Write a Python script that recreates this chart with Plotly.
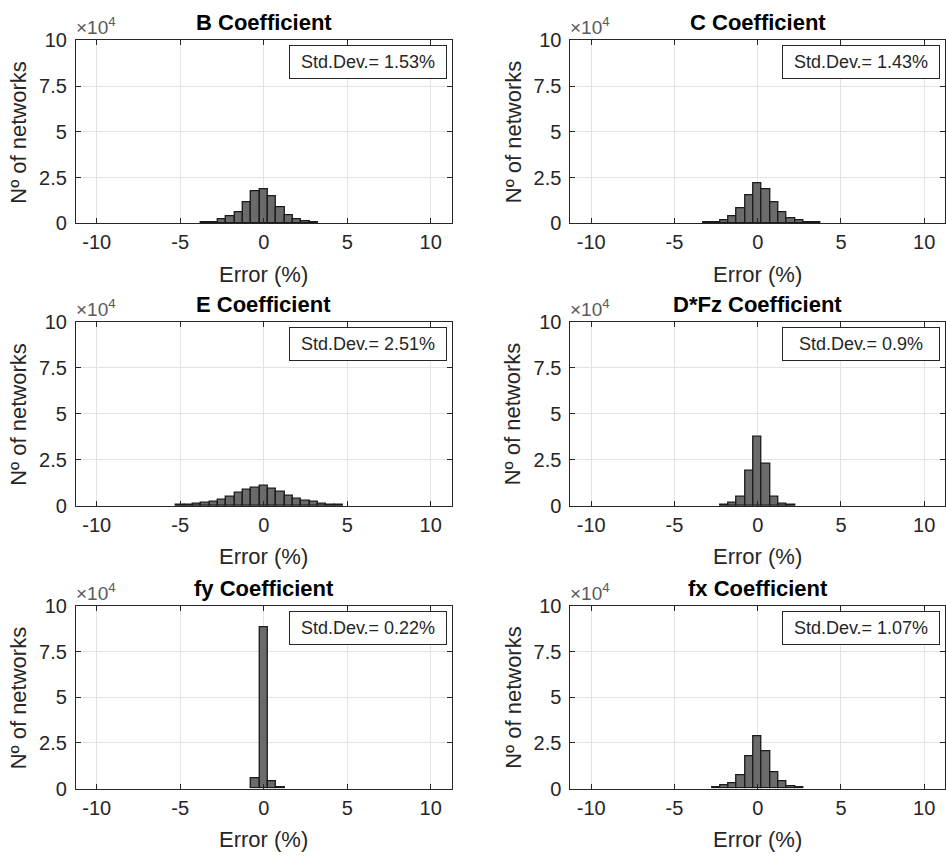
import plotly.graph_objects as go

# ---------------- data (counts per 0.5 % bin) ----------------
titles = ["B Coefficient", "C Coefficient", "E Coefficient",
          "D*Fz Coefficient", "fy Coefficient", "fx Coefficient"]
std_labels = ["Std.Dev.= 1.53%", "Std.Dev.= 1.43%", "Std.Dev.= 2.51%",
              "Std.Dev.= 0.9%", "Std.Dev.= 0.22%", "Std.Dev.= 1.07%"]

b_centers = [-3.5, -3.0, -2.5, -2.0, -1.5, -1.0, -0.5, 0.0, 0.5, 1.0, 1.5, 2.0, 2.5, 3.0]
b_counts = [800, 800, 2300, 3800, 6000, 11300, 17500, 18800, 15100, 9000, 4500, 2200, 1400, 800]

c_centers = [-3.0, -2.5, -2.0, -1.5, -1.0, -0.5, 0.0, 0.5, 1.0, 1.5, 2.0, 2.5, 3.0, 3.5]
c_counts = [600, 700, 1500, 3700, 8300, 15200, 22200, 18900, 11500, 6100, 3100, 1500, 900, 600]

e_centers = [-5.0, -4.5, -4.0, -3.5, -3.0, -2.5, -2.0, -1.5, -1.0, -0.5, 0.0,
             0.5, 1.0, 1.5, 2.0, 2.5, 3.0, 3.5, 4.0, 4.5]
e_counts = [400, 600, 1100, 1600, 2400, 3600, 5200, 7200, 8800, 10000, 10900,
            9500, 7600, 5600, 3900, 2900, 2100, 1400, 800, 500]

d_centers = [-2.0, -1.5, -1.0, -0.5, 0.0, 0.5, 1.0, 1.5, 2.0]
d_counts = [500, 1600, 5100, 19200, 37700, 22800, 5100, 1300, 500]

fy_centers = [-0.5, 0.0, 0.5, 1.0]
fy_counts = [5700, 88300, 3800, 400]

fx_centers = [-2.5, -2.0, -1.5, -1.0, -0.5, 0.0, 0.5, 1.0, 1.5, 2.0, 2.5]
fx_counts = [500, 1600, 3000, 7300, 17500, 28600, 20500, 8900, 3900, 1400, 500]

bin_width = 0.5
x_tickvals = [-10, -5, 0, 5, 10]
x_ticktext = ["-10", "-5", "0", "5", "10"]
y_tickvals = [0, 25000, 50000, 75000, 100000]
y_ticktext = ["0", "2.5", "5", "7.5", "10"]
x_range = [-11.25, 11.25]
y_range = [0, 100000]

series = [(b_centers, b_counts), (c_centers, c_counts), (e_centers, e_counts),
          (d_centers, d_counts), (fy_centers, fy_counts), (fx_centers, fx_counts)]

# ---------------- layout geometry (pixels) ----------------
W, H = 946, 858
col_px = [(76, 452), (571, 946)]
row_px = [(30, 218), (319, 508), (611, 798)]

FONT = "Liberation Sans, Arial, Helvetica, sans-serif"
TXT = "#262626"

fig = go.Figure()
layout = dict(width=W, height=H, margin=dict(l=0, r=0, t=0, b=0),
              paper_bgcolor="white", plot_bgcolor="white",
              showlegend=False, bargap=0, font=dict(family=FONT, color=TXT, size=20))
annotations = []

for i, (cx, cy) in enumerate(series):
    r, c = divmod(i, 2)
    n = i + 1
    xa = "x" if n == 1 else f"x{n}"
    ya = "y" if n == 1 else f"y{n}"
    fig.add_trace(go.Bar(x=cx, y=cy, width=bin_width, xaxis=xa, yaxis=ya,
                         marker=dict(color="#6b6b6b",
                                     line=dict(color="#1a1a1a", width=1.3))))
    x0, x1 = col_px[c]
    y0, y1 = row_px[r]
    common = dict(showline=True, linecolor=TXT, linewidth=1, mirror="ticks",
                  ticks="inside", ticklen=5, tickcolor=TXT, tickwidth=1,
                  showgrid=True, gridcolor="#e3e3e3", gridwidth=1,
                  zeroline=False, tickfont=dict(family=FONT, size=20, color=TXT))
    layout["xaxis" if n == 1 else f"xaxis{n}"] = dict(
        domain=[x0 / W, x1 / W], anchor=ya, range=x_range,
        tickvals=x_tickvals, ticktext=x_ticktext, ticklabelstandoff=1, **common)
    layout["yaxis" if n == 1 else f"yaxis{n}"] = dict(
        domain=[1 - y1 / H, 1 - y0 / H], anchor=xa, range=y_range,
        tickvals=y_tickvals, ticktext=y_ticktext, ticklabelstandoff=4, **common)

    xd = f"{xa} domain"
    yd = f"{ya} domain"
    # title
    annotations.append(dict(text=f"<b>{titles[i]}</b>", xref=xd, yref=yd, x=0.5, y=1,
                            xanchor="center", yanchor="bottom", yshift=3, showarrow=False,
                            font=dict(family=FONT, size=22, color="black")))
    # exponent
    annotations.append(dict(text="×10<sup>4</sup>", xref=xd, yref=yd, x=0, y=1,
                            xanchor="left", yanchor="bottom", xshift=-2, yshift=0,
                            showarrow=False, font=dict(family=FONT, size=19, color="#5a5a5a")))
    # axis titles
    annotations.append(dict(text="Error (%)", xref=xd, yref=yd, x=0.5, y=0,
                            xanchor="center", yanchor="middle", yshift=-51, showarrow=False,
                            font=dict(family=FONT, size=22, color=TXT)))
    annotations.append(dict(text="Nº of networks", xref=xd, yref=yd, x=0, y=0.5,
                            xanchor="center", yanchor="middle", xshift=-57, textangle=-90,
                            showarrow=False, font=dict(family=FONT, size=22, color=TXT)))
    # std-dev box
    annotations.append(dict(text=std_labels[i], xref=xd, yref=yd, x=0.987, y=0.972,
                            xanchor="right", yanchor="top", showarrow=False,
                            bordercolor=TXT, borderwidth=1, borderpad=5, bgcolor="white",
                            width=146, height=22, align="center",
                            font=dict(family=FONT, size=18, color=TXT)))

layout["annotations"] = annotations
fig.update_layout(**layout)
fig.write_html("out.html")
